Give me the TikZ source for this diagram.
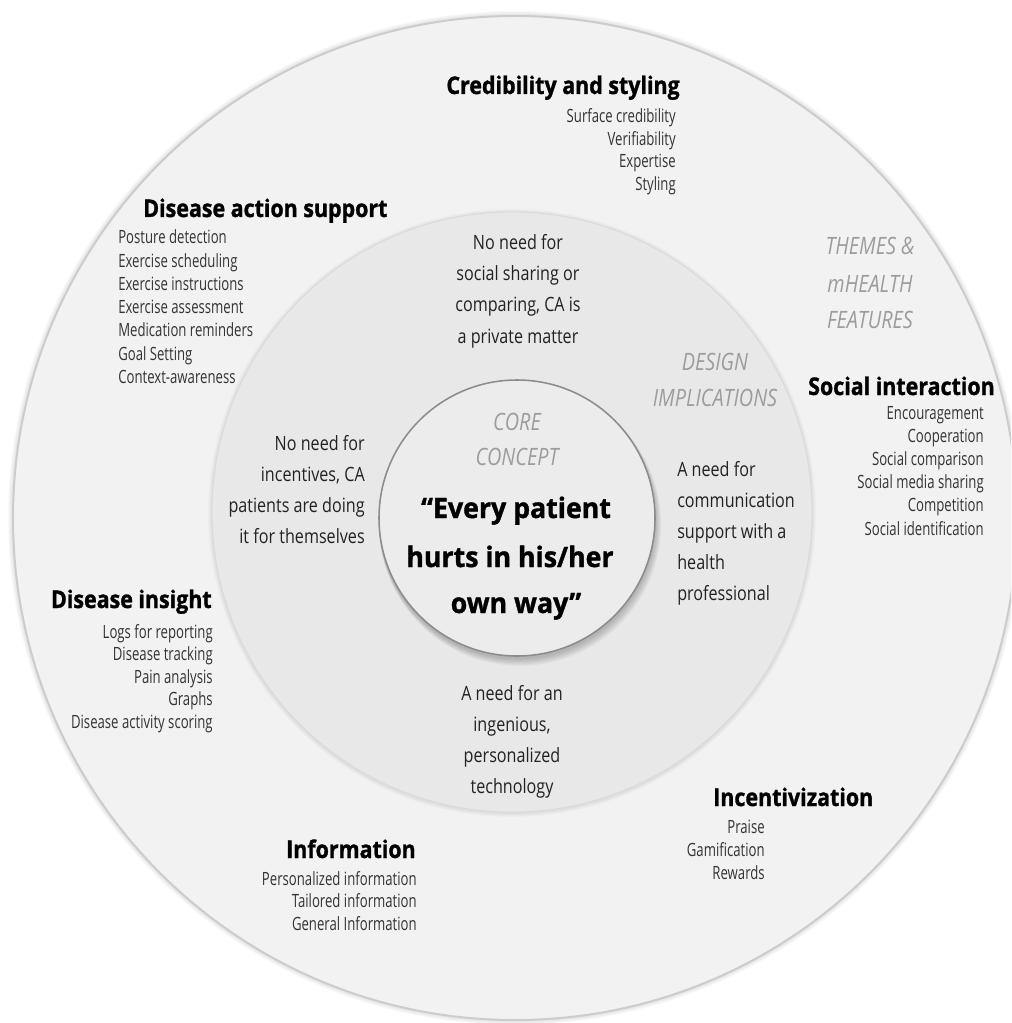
\documentclass[tikz,border=0pt]{standalone}
\usepackage{fontspec}
\setmainfont{Open Sans}
\newfontfamily\itemfont[FakeStretch=0.72]{Open Sans}
\newfontfamily\headfont[FakeStretch=0.88,FakeBold=1.2]{Open Sans}
\newfontfamily\midfont[FakeStretch=0.82]{Open Sans}
\newfontfamily\corefont[FakeStretch=0.95,FakeBold=1.2]{Open Sans}
\newfontfamily\tagfont[FakeStretch=0.83]{Open Sans}
\definecolor{ringouter}{HTML}{F2F2F2}
\definecolor{ringmid}{HTML}{E8E8E8}
\definecolor{ringcore}{HTML}{ECECEC}
\definecolor{edgeouter}{HTML}{CCCCCC}
\definecolor{edgecore}{HTML}{8C8C8C}
\definecolor{itemgray}{HTML}{333333}
\definecolor{taggray}{HTML}{9C9C9C}
\definecolor{midtext}{HTML}{222222}
\begin{document}
\begin{tikzpicture}[x=0.025cm,y=-0.025cm,
  head/.style={font=\headfont\bfseries\fontsize{17.3}{20}\selectfont, text=black, inner sep=0},
  itemtxt/.style={font=\itemfont\fontsize{13}{16}\selectfont, text=itemgray, inner sep=0},
  midtxt/.style={font=\midfont\fontsize{14}{17}\selectfont, text=midtext, inner sep=0},
  coretxt/.style={font=\corefont\bfseries\fontsize{20}{24}\selectfont, text=black, inner sep=0},
  tagtxt/.style={font=\tagfont\itshape\fontsize{17}{20}\selectfont, text=taggray, inner sep=0}]

\useasboundingbox (0,0) rectangle (1011,1023);
\clip (0,0) rectangle (1011,1023);

% outer ring: soft shadow, then disc
\foreach \k in {1,...,5}
  \fill[black, opacity=0.025] (515,518) circle ({502+\k});
\fill[ringouter] (515,518) circle (502);
\draw[edgeouter, line width=1.4pt] (515,518) circle (502);

% middle ring
\foreach \k in {1,...,4}
  \fill[black, opacity=0.02] (512,513) circle ({300+\k});
\fill[ringmid] (512,512) circle (300);
\draw[white!85!black, line width=0.6pt] (512,512) circle (300);

% core disc with drop shadow
\foreach \k in {1,...,6}
  \fill[black, opacity=0.04] ({517+0.5*\k},{520+0.8*\k}) circle ({138+0.5*\k});
\fill[ringcore] (517,518) circle (138);
\draw[edgecore, line width=1.1pt] (517,518) circle (138);

% section labels in grey italics
\node[tagtxt, anchor=base] (th1) at (870,255) {THEMES \&};
\node[tagtxt, anchor=base] (th2) at (870,293) {mHEALTH};
\node[tagtxt, anchor=base] (th3) at (870,328) {FEATURES};
\node[tagtxt, anchor=base] (di1) at (715,370) {DESIGN};
\node[tagtxt, anchor=base] (di2) at (715,406) {IMPLICATIONS};
\node[tagtxt, anchor=base] (cc1) at (517,430) {CORE};
\node[tagtxt, anchor=base] (cc2) at (517,465) {CONCEPT};

% core statement
\node[coretxt, anchor=base] (core1) at (516,518) {“Every patient};
\node[coretxt, anchor=base] (core2) at (510,567) {hurts in his/her};
\node[coretxt, anchor=base] (core3) at (516,613) {own way”};

% design implications
\foreach \t [count=\i] in {No need for, social sharing or, {comparing, CA is}, a private matter}
  \node[midtxt, anchor=base] (dtop\i) at (518,{250+31*(\i-1)}) {\t};
\foreach \t [count=\i] in {A need for, communication, support with a, health, professional}
  \node[midtxt, anchor=base west] (dright\i) at (677,{476+31*(\i-1)}) {\t};
\foreach \t [count=\i] in {No need for, {incentives, CA}, patients are doing, it for themselves}
  \node[midtxt, anchor=base east] (dleft\i) at (365,{450+31*(\i-1)}) {\t};
\foreach \t [count=\i] in {A need for an, {ingenious,}, personalized, technology}
  \node[midtxt, anchor=base] (dbot\i) at (512,{700+31*(\i-1)}) {\t};

% themes and features
\node[head, anchor=base east] (credh) at (680,94) {Credibility and styling};
\foreach \t [count=\i] in {Surface credibility, Verifiability, Expertise, Styling}
  \node[itemtxt, anchor=base east] (cred\i) at (676,{123+22.5*(\i-1)}) {\t};

\node[head, anchor=base west] (acth) at (143,217) {Disease action support};
\foreach \t [count=\i] in {Posture detection, Exercise scheduling, Exercise instructions, Exercise assessment, Medication reminders, Goal Setting, Context-awareness}
  \node[itemtxt, anchor=base west] (act\i) at (118,{244+23.2*(\i-1)}) {\t};

\node[head, anchor=base east] (soch) at (995,395) {Social interaction};
\foreach \t [count=\i] in {Encouragement, Cooperation, Social comparison, Social media sharing, Competition, Social identification}
  \node[itemtxt, anchor=base east] (soc\i) at (984,{419+23.2*(\i-1)}) {\t};

\node[head, anchor=base east] (insh) at (212,608) {Disease insight};
\foreach \t [count=\i] in {Logs for reporting, Disease tracking, Pain analysis, Graphs, Disease activity scoring}
  \node[itemtxt, anchor=base east] (ins\i) at (213,{638+22.6*(\i-1)}) {\t};

\node[head, anchor=base east] (infh) at (416,858) {Information};
\foreach \t [count=\i] in {Personalized information, Tailored information, General Information}
  \node[itemtxt, anchor=base east] (inf\i) at (417,{885+22.6*(\i-1)}) {\t};

\node[head, anchor=base west] (inch) at (713,806) {Incentivization};
\foreach \t [count=\i] in {Praise, Gamification, Rewards}
  \node[itemtxt, anchor=base east] (inc\i) at (765,{833+23*(\i-1)}) {\t};

\end{tikzpicture}
\end{document}
